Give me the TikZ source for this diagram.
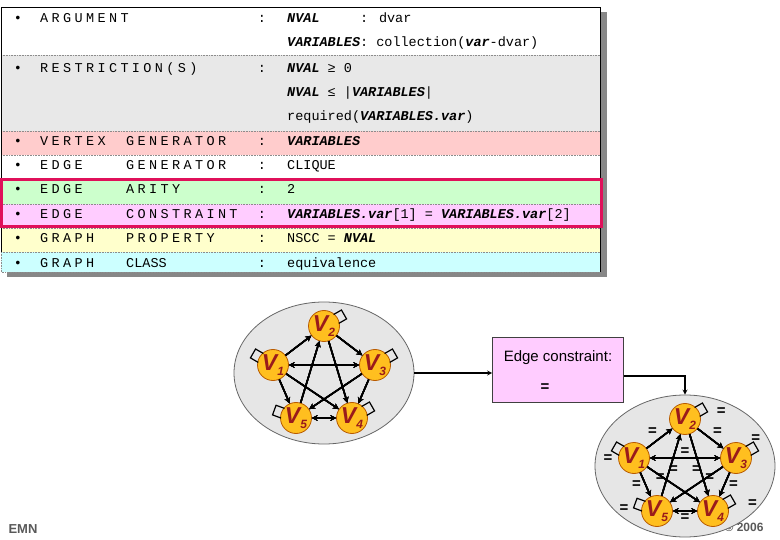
\documentclass[tikz,border=0pt]{standalone}
\usepackage{fontspec}
\setmainfont{Liberation Sans}
\newfontfamily\tabfont{Liberation Mono}
\newfontfamily\kwfont[LetterSpace=25]{Liberation Mono}
\usepackage{xcolor}
\definecolor{rowGray}{HTML}{E8E8E8}
\definecolor{rowRed}{HTML}{FFCCCC}
\definecolor{rowGreen}{HTML}{CCFFCC}
\definecolor{rowPink}{HTML}{FFCCFF}
\definecolor{rowYellow}{HTML}{FFFFCC}
\definecolor{rowCyan}{HTML}{CCFFFF}
\definecolor{frameRed}{HTML}{E0105A}
\definecolor{vertFill}{HTML}{FFBF1F}
\definecolor{vertLine}{HTML}{B85A00}
\definecolor{vertText}{HTML}{9A1B1B}
\definecolor{ellGray}{HTML}{E6E6E6}
\usepackage{tikz}
\usetikzlibrary{calc,shapes.geometric}

\newcommand{\vn}[1]{\textbf{\textit{#1}}}
\newcommand{\vx}[1]{{\fontsize{23}{23}\selectfont\bfseries\itshape V}\raisebox{-5pt}{\fontsize{12}{12}\selectfont\bfseries\itshape #1}}
\newcommand{\selfloop}[2]{\draw[loopline] ($(#1)+({#2+20}:15)$) -- ++(#2:9) -- ($(#1)+({#2-20}:15)+(#2:9)$) -- ($(#1)+({#2-20}:15)$);}

\begin{document}
\begin{tikzpicture}[x=1pt, y=1pt, >=stealth,
  tabtxt/.style={anchor=west, inner sep=0pt, text height=8pt, text depth=2pt, font=\tabfont\fontsize{13.5}{16}\selectfont},
  kwtxt/.style={tabtxt, font=\kwfont\fontsize{13.5}{16}\selectfont},
  rowsep/.style={black!45, densely dotted, line width=0.6pt},
  grp/.style={ellipse, draw=black!60, fill=ellGray, line width=0.8pt, minimum width=180, minimum height=142, inner sep=0pt},
  vtx/.style={circle, draw=vertLine, fill=vertFill, line width=0.8pt, minimum size=31, inner sep=0pt, text=vertText},
  gedge/.style={line width=1.5pt},
  loopline/.style={line width=1.2pt},
  eqlbl/.style={inner sep=1.5pt, font=\fontsize{15}{15}\selectfont\bfseries},
  conn/.style={line width=1.2pt}]
  \useasboundingbox (0,0) rectangle (780,-540);
  % ---- constraint description table ----
  \fill[black!47] (7,-12) rectangle (607,-277);
  \foreach \ya/\yb/\col in {7/55/white,55/131/rowGray,131/155/rowRed,155/179/white,179/204/rowGreen,204/228/rowPink,228/252/rowYellow,252/272/rowCyan}
    \fill[\col] (1,-\ya) rectangle (600,-\yb);
  \foreach \y in {55,131,155,179,204,228,252}
    \draw[rowsep] (1,-\y) -- (600,-\y);
  \draw[line width=0.8pt] (1,-252) -- (1,-7) -- (600,-7) -- (600,-272);
  \draw[rowsep] (1,-252) -- (1,-272) -- (600,-272);
  \draw[frameRed, line width=3pt] (1,-180) rectangle (601,-227);
  \foreach \y/\ka/\kb/\val in {
      20/ARGUMENT//{\vn{NVAL}\phantom{XXXXX}: dvar},
      70/RESTRICTION(S)//{\vn{NVAL} ≥ 0},
      143/VERTEX/GENERATOR/{\vn{VARIABLES}},
      167/EDGE/GENERATOR/CLIQUE,
      191/EDGE/ARITY/2,
      216/EDGE/CONSTRAINT/{\vn{VARIABLES.var}[1] = \vn{VARIABLES.var}[2]},
      240/GRAPH/PROPERTY/{NSCC = \vn{NVAL}},
      265/GRAPH/{\tabfont CLASS}/equivalence} {
    \node[tabtxt, anchor=center] (bul\y) at (18,-\y) {•};
    \node[kwtxt] (kwa\y) at (40,-\y) {\ka};
    \node[kwtxt] (kwb\y) at (126,-\y) {\kb};
    \node[tabtxt, anchor=center] (col\y) at (262,-\y) {:};
    \node[tabtxt] (val\y) at (287,-\y) {\val};
  }
  % continuation lines
  \foreach \y/\val in {44/{\vn{VARIABLES}: collection(\vn{var}-dvar)},
      94/{\vn{NVAL} ≤ |\vn{VARIABLES}|},
      118/{required(\vn{VARIABLES.var})}}
    \node[tabtxt] (val\y) at (287,-\y) {\val};
  % ---- footer texts ----
  \node[anchor=west, text=black!65, font=\fontsize{13}{13}\selectfont\bfseries] (emn) at (5,-529) {EMN};
  \node[anchor=east, text=black!65, font=\fontsize{12}{12}\selectfont\bfseries] (copy) at (767,-527) {© 2006};
  % ---- the two graphs: initial and after the edge constraint ----
  \foreach \g/\cx/\cy in {L/324/-373,R/685/-466} {
    \begin{scope}[shift={(\cx,\cy)}]
      \node[grp] (\g) at (0,0) {};
      \foreach \i/\x/\y in {1/-51/8,2/0/47,3/51/8,4/28/-45,5/-28/-45}
        \node[vtx] (\g\i) at (\x,\y) {\vx{\i}};
    \end{scope}
    \foreach \i/\a in {1/150,2/30,3/30,4/30,5/160}
      \selfloop{\g\i}{\a}
    \foreach \a/\b/\tip in {1/2/->,2/3/->,1/3/<->,5/4/<->,1/5/->,3/4/->,5/2/->,2/4/->,1/4/->,3/5/->}
      \draw[gedge,\tip] (\g\a) -- (\g\b);
  }
  % "=" on every arc of the final graph
  \foreach \a/\b/\p/\d/\s in {1/2/0.5/above left/1pt,2/3/0.5/above right/1pt,1/3/0.5/above/1pt,5/4/0.5/below/1pt,1/5/0.5/left/3pt,3/4/0.5/right/3pt,5/2/0.3/left/1pt,2/4/0.7/right/1pt,1/4/0.5/above/9pt,3/5/0.5/above/9pt}
    \path (R\a) -- node[eqlbl, pos=\p, \d=\s] {=} (R\b);
  \foreach \i/\a/\r in {1/182/26,2/12/37,3/45/28,4/10/40,5/176/33}
    \node[eqlbl] (eqR\i) at ($(R\i)+(\a:\r)$) {=};
  % ---- edge constraint box ----
  \node[draw=black!75, fill=rowPink, line width=0.8pt, minimum width=131, minimum height=65] (ec) at (558,-370) {};
  \node[anchor=north, font=\fontsize{15}{15}\selectfont] (ectxt) at ([yshift=-10pt]ec.north) {Edge constraint:};
  \node[eqlbl] (eceq) at (545,-388) {=};
  \draw[conn,->] (L.east) -- (L.east -| ec.west);
  \draw[conn,->] ([yshift=-6pt]ec.east) -| (R.north);
\end{tikzpicture}
\end{document}
